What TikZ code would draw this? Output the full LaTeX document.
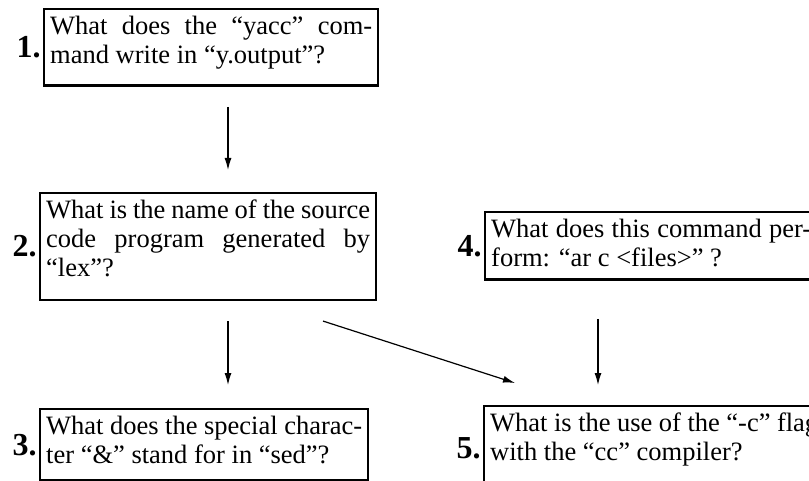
\documentclass[tikz,border=0pt]{standalone}
\usepackage{fontspec}
\setmainfont{Liberation Serif}
\usetikzlibrary{arrows.meta,positioning}

\tikzset{
  qbox/.style={draw, line width=1.2pt, anchor=north west, align=justify,
    inner xsep=3pt, inner ysep=3.5pt, text depth=19.5pt,
    font={\fontsize{13.25}{14.5}\selectfont}},
  qnum/.style={font={\fontsize{16}{18}\selectfont\bfseries}, inner sep=1pt},
  qarrow/.style={line width=0.6pt, -{Latex[length=6pt,width=3.5pt]}}
}

\begin{document}
\begin{tikzpicture}[x=0.5pt,y=-0.5pt]
  \useasboundingbox (0,0) rectangle (809,481);
  \clip (0,0) rectangle (809,481);

  \node[qbox,text width=161pt,text depth=22pt,label={[qnum]left:1.}] (q1) at (43,8)
    {What does the ``yacc'' com-\linebreak mand write in ``y.output''?};
  \node[qbox,text width=162pt,text depth=37pt,label={[qnum]left:2.}] (q2) at (39,192)
    {What is the name of the source\linebreak code program generated by\linebreak ``lex''?};
  \node[qbox,text width=158pt,label={[qnum]left:3.}] (q3) at (39,408)
    {What does the special charac-\linebreak ter ``\&'' stand for in ``sed''?};
  \node[qbox,text width=160pt,text depth=17.5pt,label={[qnum]left:4.}] (q4) at (484,211)
    {What does this command per-\linebreak form: ``ar c <files>'' ?};
  \node[qbox,text width=164pt,text depth=26pt,label={[qnum]left:5.}] (q5) at (483,405)
    {What is the use of the ``-c'' flag\linebreak with the ``cc'' compiler?};

  % connectors
  \draw[qarrow] ([xshift=92.5pt,yshift=-10pt]q1.south west) -- ([xshift=94.5pt,yshift=11pt]q2.north west);
  \draw[qarrow] ([xshift=94.5pt,yshift=-10pt]q2.south west) -- ([xshift=94.5pt,yshift=11.5pt]q3.north west);
  \draw[qarrow] ([xshift=142pt,yshift=-10pt]q2.south west) -- ([xshift=16pt,yshift=11pt]q5.north west);
  \draw[qarrow] ([xshift=57pt,yshift=-19pt]q4.south west) -- ([xshift=57.5pt,yshift=10pt]q5.north west);
\end{tikzpicture}
\end{document}
